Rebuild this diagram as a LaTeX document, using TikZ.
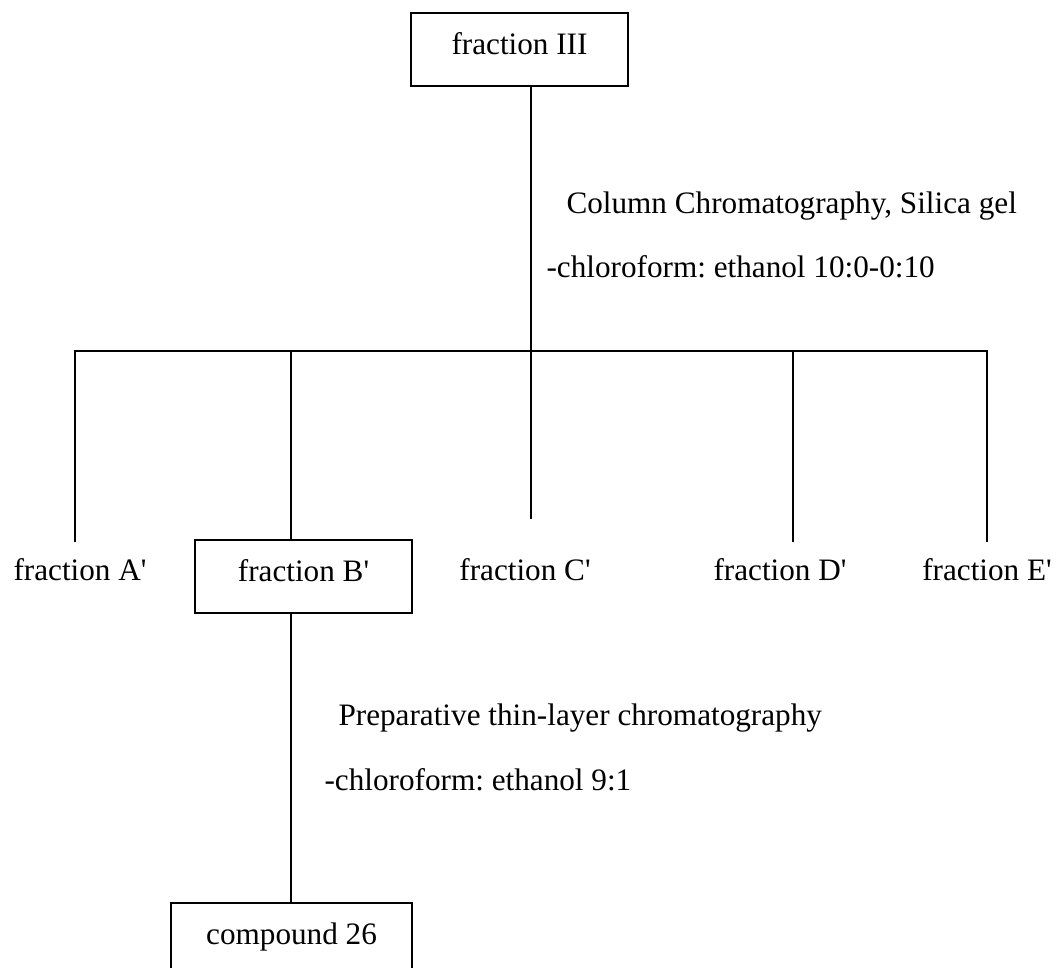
\documentclass[tikz,border=0pt]{standalone}
\usepackage{fontspec}
\setmainfont{Liberation Serif}
\usepackage{tikz}
\usetikzlibrary{positioning}
\frenchspacing

\begin{document}
\begin{tikzpicture}[
    x=0.3846pt, y=-0.3846pt,
    node distance=110.8pt,
    box/.style={rectangle, draw=black, line width=0.8pt,
                minimum width=83.5pt, minimum height=28.1pt, inner sep=0pt,
                text height=8.4pt, text depth=4.8pt,
                font=\fontsize{12}{14.4}\selectfont},
    frac/.style={anchor=base, inner xsep=0pt, inner ysep=5.9pt,
                 text height=8.4pt, text depth=0pt,
                 font=\fontsize{12}{14.4}\selectfont},
    note/.style={anchor=base west, inner sep=0pt,
                 font=\fontsize{12}{14.4}\selectfont},
    line/.style={line width=0.8pt, draw=black}
]
\useasboundingbox (0,0) rectangle (1058,967);

\node[box]  (iii) at (519.5,49.5) {fraction III};
\node[frac] (fa)  at (80,580)     {fraction A\textquotesingle};
\node[box]  (fb)  at (303.5,576.5) {fraction B\textquotesingle};
\node[frac] (fc)  at (525,580)    {fraction C\textquotesingle};
\node[frac] (fd)  at (780,580)    {fraction D\textquotesingle};
\node[frac] (fe)  at (987,580)    {fraction E\textquotesingle};
\node[box, minimum width=92.7pt, below=of fb, xshift=-4.6pt] (cmpd) {compound 26};

\node[note] (cc)  at (566,213) {Column Chromatography, Silica gel};
\node[note] (ce)  at (546,277) {-chloroform: ethanol 10:0-0:10};
\node[note] (tlc) at (338,725) {Preparative thin-layer chromatography};
\node[note] (te)  at (324,790) {-chloroform: ethanol 9:1};

\coordinate (split) at (531,351);
\coordinate (ba) at (75,351);
\coordinate (bb) at (291,351);
\coordinate (bd) at (793,351);
\coordinate (be) at (987,351);

\draw[line] (split |- iii.south) -- (split);
\draw[line] (ba |- fa.north) -- (ba) -- (be) -- (be |- fe.north);
\draw[line] (bb) -- (bb |- fb.north);
\draw[line, shorten >=8.8pt] (split) -- (split |- fc.north);
\draw[line] (bd) -- (bd |- fd.north);
\draw[line] (bb |- fb.south) -- (bb |- cmpd.north);
\end{tikzpicture}
\end{document}
